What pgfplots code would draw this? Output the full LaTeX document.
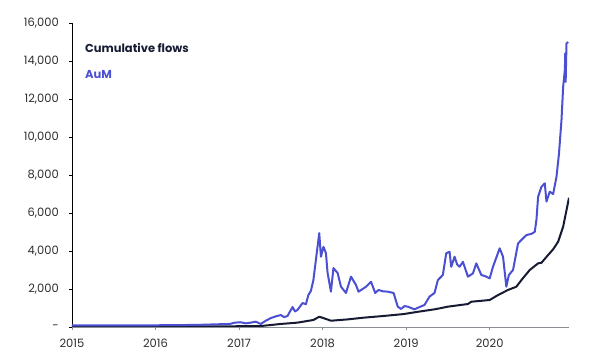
\documentclass[border=0pt]{standalone}
\usepackage{fontspec}
\setmainfont{Poppins}
\usepackage{pgfplots}
\pgfplotsset{compat=1.18}
\definecolor{aum}{HTML}{4B50D2}
\definecolor{flows}{HTML}{161B33}
\definecolor{tickgray}{HTML}{2E2E2E}
\definecolor{xaxisgray}{HTML}{8A8F96}
\begin{document}
\begin{tikzpicture}
\begin{axis}[
  scale only axis, width=497pt, height=304pt,
  xmin=2015, xmax=2020.95, ymin=0, ymax=16000,
  scaled y ticks=false, scaled x ticks=false,
  axis x line*=bottom, axis y line*=left,
  x axis line style={xaxisgray, line width=0.9pt},
  y axis line style={black, line width=0.8pt},
  xtick={2015,2016,2017,2018,2019,2020},
  xticklabels={2015,2016,2017,2018,2019,2020},
  ytick={0,2000,4000,6000,8000,10000,12000,14000,16000},
  yticklabels={{-\hspace{7pt}},{2,000},{4,000},{6,000},{8,000},{10,000},{12,000},{14,000},{16,000}},
  tick align=outside, major tick length=3pt,
  xtick style={xaxisgray, line width=0.8pt},
  ytick style={black, line width=0.8pt},
  tick label style={font=\fontsize{11.5}{13}\selectfont, text=tickgray},
  yticklabel style={inner sep=0pt, xshift=-10pt},
  xticklabel style={inner sep=0pt, yshift=-9pt},
]
\addplot[flows, line width=2pt, line join=round] coordinates {
(2015.00,20) (2015.50,20) (2016.00,25) (2016.50,30) (2017.00,40) (2017.26,50)
(2017.50,160) (2017.70,230) (2017.89,370) (2017.96,540) (2018.01,470)
(2018.10,330) (2018.30,400) (2018.49,490) (2018.73,580) (2018.97,680)
(2019.14,800) (2019.34,930) (2019.40,980) (2019.50,1070) (2019.74,1210) (2019.78,1330)
(2020.00,1420) (2020.10,1680) (2020.22,1950) (2020.32,2120) (2020.38,2470)
(2020.48,3000) (2020.58,3350) (2020.62,3380) (2020.70,3790) (2020.76,4090) (2020.82,4490)
(2020.88,5280) (2020.92,6150) (2020.95,6800)
};
\addplot[aum, line width=2pt, line join=round] coordinates {
(2015.00,80) (2015.50,80) (2016.00,90) (2016.50,110) (2016.80,150)
(2016.89,160) (2016.95,230) (2017.02,250) (2017.08,190) (2017.14,230) (2017.20,280) (2017.26,160) (2017.32,330) (2017.38,470)
(2017.44,560) (2017.50,630) (2017.54,520) (2017.58,580) (2017.64,1050) (2017.67,820) (2017.70,900) (2017.76,1260)
(2017.80,1200) (2017.83,1680) (2017.86,1900) (2017.89,2470) (2017.93,3890) (2017.96,4940) (2017.98,3700)
(2018.01,4220) (2018.04,3890) (2018.06,2840) (2018.10,1860) (2018.13,3100)
(2018.18,2840) (2018.22,2120) (2018.28,1790) (2018.34,2650) (2018.40,2210)
(2018.43,1860) (2018.48,2000) (2018.52,2120) (2018.58,2380) (2018.63,1790) (2018.67,1950)
(2018.72,1880) (2018.78,1860) (2018.85,1790) (2018.90,1070) (2018.94,950) (2018.98,1100) (2019.02,1070)
(2019.10,930) (2019.16,1050) (2019.22,1160) (2019.28,1600) (2019.34,1790) (2019.38,2470)
(2019.44,2740) (2019.48,3880) (2019.52,3960) (2019.54,3170) (2019.58,3700)
(2019.61,3300) (2019.64,3170) (2019.68,3430) (2019.74,2650) (2019.80,2820) (2019.84,3350)
(2019.90,2740) (2019.96,2650) (2020.00,2560) (2020.04,3170) (2020.12,4140)
(2020.16,3700) (2020.20,2120) (2020.23,2740) (2020.28,3000) (2020.34,4400)
(2020.38,4580) (2020.44,4840) (2020.50,4900) (2020.54,5010) (2020.56,5630) (2020.58,6850)
(2020.62,7380) (2020.66,7560) (2020.68,6600) (2020.72,7120) (2020.76,7000)
(2020.80,7900) (2020.83,9130) (2020.86,10890) (2020.88,12640) (2020.90,13520)
(2020.905,14400) (2020.91,12900) (2020.92,14920) (2020.94,15000)
};
\node[anchor=west, inner sep=0pt, font=\bfseries\fontsize{11.5}{13}\selectfont, text=flows] at (rel axis cs:0.026,0.918) {Cumulative flows};
\node[anchor=west, inner sep=0pt, font=\bfseries\fontsize{11.5}{13}\selectfont, text=aum] at (rel axis cs:0.026,0.829) {AuM};
\end{axis}
\path ([shift={(-72pt,-36pt)}]current axis.south west) rectangle ([shift={(31pt,23pt)}]current axis.north east);
\end{tikzpicture}
\end{document}
